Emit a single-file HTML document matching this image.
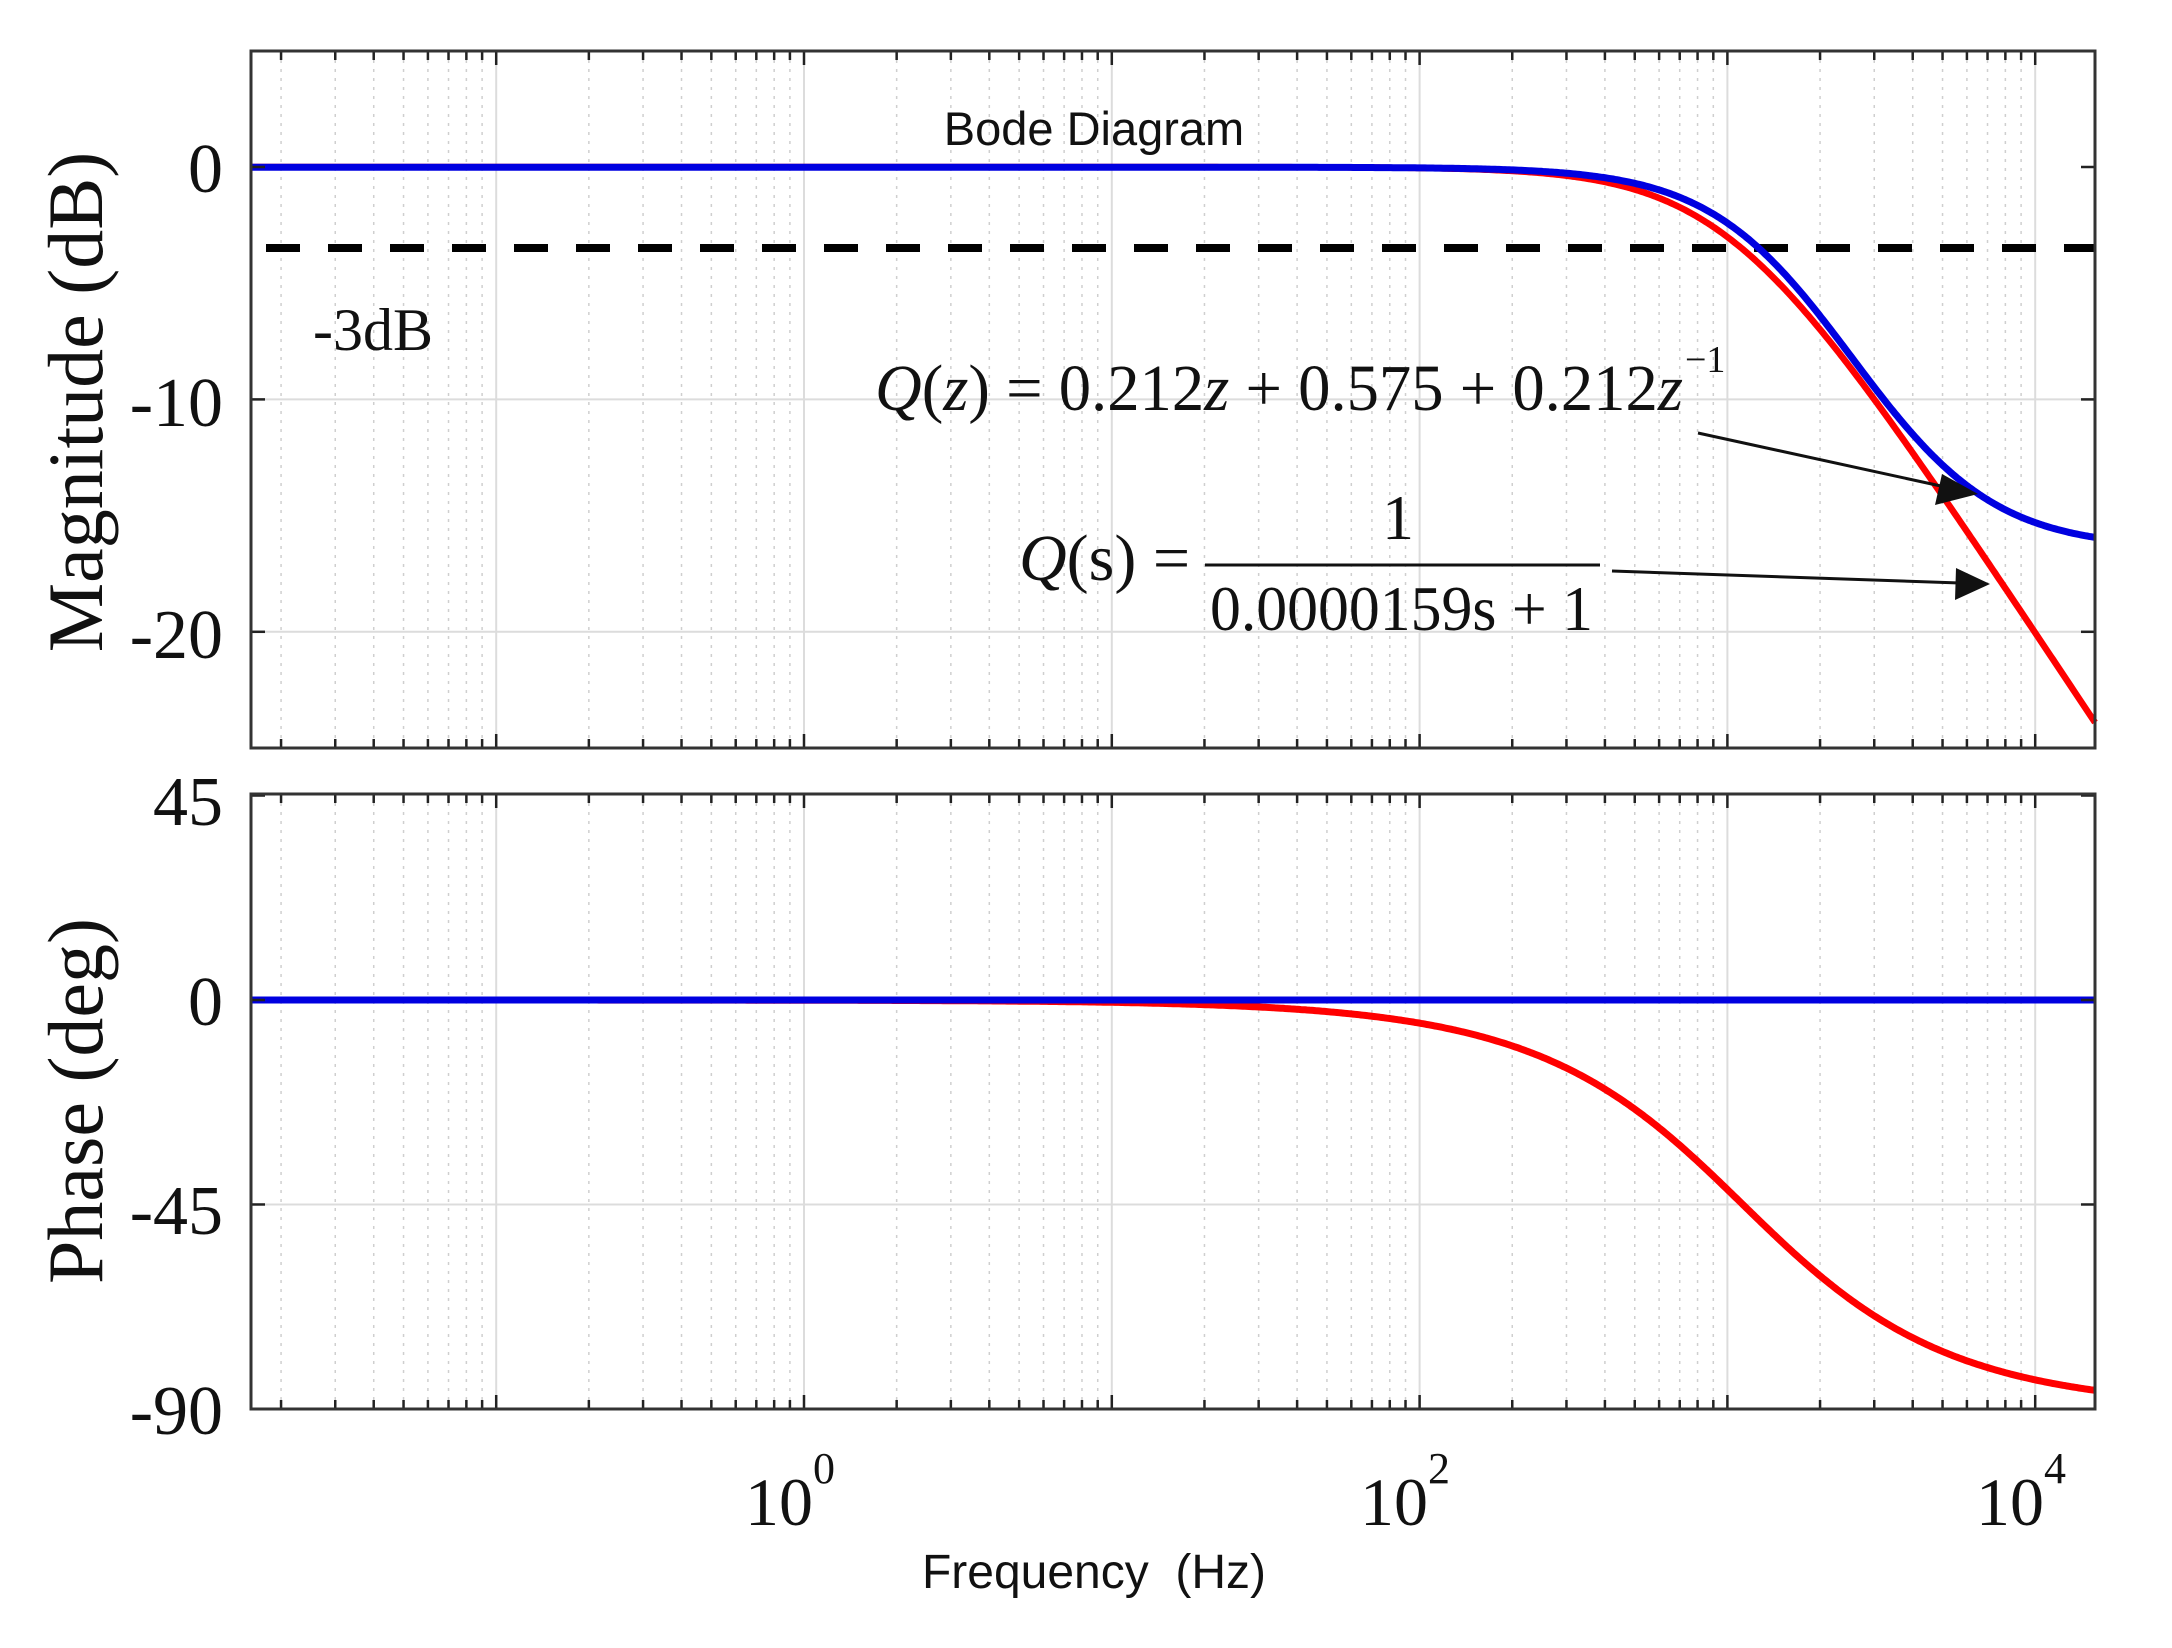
<!DOCTYPE html>
<html><head><meta charset="utf-8"><style>
html,body{margin:0;padding:0;background:#fff;}
svg{display:block;}
.t{font-family:"Liberation Serif",serif;fill:#111;}
.a{font-family:"Liberation Sans",sans-serif;fill:#111;}
</style></head><body>
<svg id="s" width="2172" height="1648" viewBox="0 0 2172 1648" xmlns="http://www.w3.org/2000/svg">
<g id="grid"></g>
<g id="curves"></g>
<text class="t" x="223" y="192" font-size="70" text-anchor="end">0</text>
<text class="t" x="223" y="426" font-size="70" text-anchor="end">-10</text>
<text class="t" x="223" y="658" font-size="70" text-anchor="end">-20</text>
<text class="t" x="223" y="825" font-size="70" text-anchor="end">45</text>
<text class="t" x="223" y="1025" font-size="70" text-anchor="end">0</text>
<text class="t" x="223" y="1234" font-size="70" text-anchor="end">-45</text>
<text class="t" x="223" y="1434" font-size="70" text-anchor="end">-90</text>
<text class="t" x="102" y="402" font-size="78" text-anchor="middle" transform="rotate(-90 102 402)">Magnitude (dB)</text>
<text class="t" x="102" y="1101" font-size="78" text-anchor="middle" transform="rotate(-90 102 1101)">Phase (deg)</text>
<text class="t" x="790" y="1525" font-size="68" text-anchor="middle">10<tspan font-size="44" dy="-42">0</tspan></text>
<text class="t" x="1405" y="1525" font-size="68" text-anchor="middle">10<tspan font-size="44" dy="-42">2</tspan></text>
<text class="t" x="2021" y="1525" font-size="68" text-anchor="middle">10<tspan font-size="44" dy="-42">4</tspan></text>
<text class="a" x="1094" y="1588" font-size="48" text-anchor="middle" xml:space="preserve">Frequency  (Hz)</text>
<text class="a" x="1094" y="145" font-size="47" text-anchor="middle">Bode Diagram</text>
<text class="t" x="313" y="350" font-size="60">-3dB</text>
<text class="t" x="875" y="410" font-size="66" textLength="808" lengthAdjust="spacingAndGlyphs"><tspan font-style="italic">Q</tspan>(<tspan font-style="italic">z</tspan>) = 0.212<tspan font-style="italic">z</tspan> + 0.575 + 0.212<tspan font-style="italic">z</tspan></text>
<text class="t" x="1685" y="372" font-size="38">−1</text>
<text class="t" x="1019" y="580" font-size="66"><tspan font-style="italic">Q</tspan>(s) =</text>
<text class="t" x="1398" y="539" font-size="64" text-anchor="middle">1</text>
<line x1="1205" y1="565" x2="1600" y2="565" stroke="#111" stroke-width="3"/>
<text class="t" x="1210" y="630" font-size="64" textLength="383" lengthAdjust="spacingAndGlyphs">0.0000159s + 1</text>
<line x1="1698" y1="433" x2="1950" y2="488" stroke="#111" stroke-width="3"/>
<polygon points="1978,494 1942,474 1935,505" fill="#111"/>
<line x1="1612" y1="571" x2="1960" y2="583" stroke="#111" stroke-width="3"/>
<polygon points="1990,584 1956,568 1955,600" fill="#111"/>
<g id="axes"></g>
</svg>
<script>
var NS="http://www.w3.org/2000/svg";
var L=251,R=2095,x0=804,D=307.8;
function X(u){return x0+u*D;}
var M={top:51,bot:748,y0:167,k:23.24};
var P={top:794,bot:1409,y0:1000,k:4.544};
function el(parent,tag,attrs){var e=document.createElementNS(NS,tag);for(var k in attrs)e.setAttribute(k,attrs[k]);document.getElementById(parent).appendChild(e);return e;}
var panels=[M,P];
panels.forEach(function(p){
  for(var d=-2;d<=4;d++){
    for(var m=1;m<=9;m++){
      var x=X(d+Math.log10(m));
      if(x<=L+1||x>=R-1)continue;
      if(m==1) el("grid","line",{x1:x,y1:p.top,x2:x,y2:p.bot,stroke:"#dcdcdc","stroke-width":2});
      else el("grid","line",{x1:x,y1:p.top,x2:x,y2:p.bot,stroke:"#cfcfcf","stroke-width":1.5,"stroke-dasharray":"3,6"});
      var tl=m==1?14:9;
      el("axes","line",{x1:x,y1:p.top,x2:x,y2:p.top+tl,stroke:"#222","stroke-width":2.5});
      el("axes","line",{x1:x,y1:p.bot,x2:x,y2:p.bot-tl,stroke:"#222","stroke-width":2.5});
    }
  }
});
[-10,-20].forEach(function(v){var y=M.y0-v*M.k;
 el("grid","line",{x1:L,y1:y,x2:R,y2:y,stroke:"#dcdcdc","stroke-width":2});});
[0,-10,-20].forEach(function(v){var y=M.y0-v*M.k;
 el("axes","line",{x1:L,y1:y,x2:L+14,y2:y,stroke:"#222","stroke-width":2.5});
 el("axes","line",{x1:R,y1:y,x2:R-14,y2:y,stroke:"#222","stroke-width":2.5});});
el("grid","line",{x1:L,y1:P.y0+45*P.k,x2:R,y2:P.y0+45*P.k,stroke:"#dcdcdc","stroke-width":2});
[45,0,-45,-90].forEach(function(v){var y=P.y0-v*P.k;
 el("axes","line",{x1:L,y1:y,x2:L+14,y2:y,stroke:"#222","stroke-width":2.5});
 el("axes","line",{x1:R,y1:y,x2:R-14,y2:y,stroke:"#222","stroke-width":2.5});});
panels.forEach(function(p){
 el("axes","rect",{x:L,y:p.top,width:R-L,height:p.bot-p.top,fill:"none",stroke:"#333","stroke-width":3});
});
el("curves","line",{x1:266,y1:248,x2:R,y2:248,stroke:"#000","stroke-width":8,"stroke-dasharray":"34,28"});
var uc=3.0,u0=3.2,ucp=3.05;
function red(u){var r=Math.pow(10,u-uc);return -10*Math.log10(1+r*r);}
function redp(u){return -Math.atan(Math.pow(10,u-ucp))*180/Math.PI;}
function blue(u){var r=Math.pow(10,u-u0);var th=2*Math.atan(r);return 20*Math.log10(0.575+0.424*Math.cos(th));}
function path(fn,p){var s="";for(var x=L;x<=R;x+=2){var u=(x-x0)/D;var y=p.y0-fn(u)*p.k;s+=(s?"L":"M")+x.toFixed(1)+","+y.toFixed(1);}return s;}
el("curves","path",{d:path(red,M),fill:"none",stroke:"#ff0000","stroke-width":6.5});
el("curves","path",{d:path(blue,M),fill:"none",stroke:"#0000e0","stroke-width":7});
el("curves","path",{d:path(redp,P),fill:"none",stroke:"#ff0000","stroke-width":7});
el("curves","line",{x1:L,y1:P.y0,x2:R,y2:P.y0,stroke:"#0000e0","stroke-width":7});
</script>
</body></html>
